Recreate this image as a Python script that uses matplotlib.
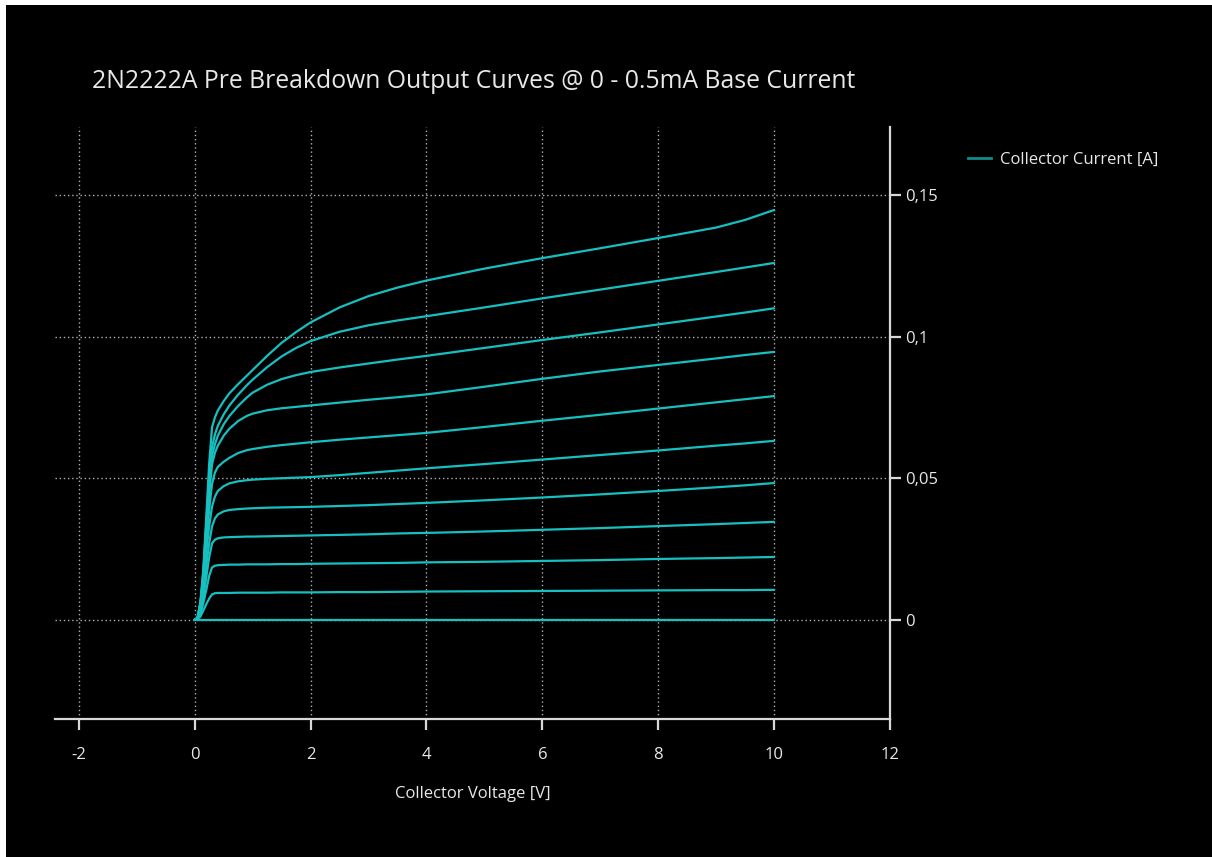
import matplotlib
matplotlib.use("Agg")
import matplotlib.pyplot as plt
from matplotlib.lines import Line2D
from matplotlib.patches import Rectangle
from matplotlib.ticker import FuncFormatter

# Tensión de colector [V] (común a todas las curvas)
voltaje = [0, 0.05, 0.1, 0.15, 0.2, 0.25, 0.3, 0.35, 0.4, 0.5, 0.6, 0.75, 0.9, 1.0,
           1.25, 1.5, 1.75, 2, 2.5, 3, 3.5, 4, 5, 6, 7, 8, 9, 9.5, 10]

# Corriente de colector [A] para cada corriente de base (0 - 0.5 mA, pasos de 0.05 mA)
ib_000 = [0] * 29
ib_005 = [0, 0.0002, 0.0012, 0.0033, 0.0055, 0.0075, 0.0090, 0.0094, 0.0095, 0.0095, 0.0095, 0.0096, 0.0096, 0.0096,
          0.0096, 0.0097, 0.0097, 0.0097, 0.0098, 0.0098, 0.0099, 0.0100, 0.0101, 0.0102, 0.0103, 0.0104, 0.0105, 0.0105, 0.0106]
ib_010 = [0, 0.0004, 0.002, 0.006, 0.0105, 0.0155, 0.0185, 0.0191, 0.0193, 0.0194, 0.0195, 0.0195, 0.0196, 0.0196,
          0.0196, 0.0197, 0.0197, 0.0198, 0.0199, 0.0200, 0.0201, 0.0203, 0.0205, 0.0208, 0.0211, 0.0215, 0.0218, 0.0220, 0.0222]
ib_015 = [0, 0.0005, 0.003, 0.008, 0.015, 0.022, 0.027, 0.0283, 0.0288, 0.0291, 0.0292, 0.0293, 0.0294, 0.0294,
          0.0295, 0.0296, 0.0297, 0.0298, 0.0300, 0.0302, 0.0305, 0.0307, 0.0312, 0.0318, 0.0324, 0.0331, 0.0338, 0.0342, 0.0346]
ib_020 = [0, 0.0006, 0.004, 0.010, 0.019, 0.027, 0.033, 0.0358, 0.0372, 0.0383, 0.0388, 0.0391, 0.0393, 0.0394,
          0.0396, 0.0397, 0.0398, 0.0399, 0.0402, 0.0405, 0.0409, 0.0413, 0.0422, 0.0432, 0.0443, 0.0455, 0.0468, 0.0475, 0.0483]
ib_025 = [0, 0.0006, 0.005, 0.013, 0.024, 0.033, 0.040, 0.0435, 0.0455, 0.0472, 0.0482, 0.0489, 0.0493, 0.0495,
          0.0498, 0.0500, 0.0502, 0.0504, 0.0511, 0.0519, 0.0527, 0.0535, 0.0550, 0.0566, 0.0582, 0.0598, 0.0615, 0.0623, 0.0632]
ib_030 = [0, 0.0007, 0.005, 0.014, 0.027, 0.039, 0.048, 0.052, 0.0540, 0.0558, 0.0572, 0.0589, 0.0599, 0.0603,
          0.0611, 0.0617, 0.0622, 0.0627, 0.0636, 0.0644, 0.0652, 0.0660, 0.0681, 0.0703, 0.0724, 0.0746, 0.0768, 0.0779, 0.0790]
ib_035 = [0, 0.0007, 0.006, 0.015, 0.030, 0.044, 0.055, 0.059, 0.0615, 0.0650, 0.0675, 0.0702, 0.0720, 0.0728,
          0.0740, 0.0747, 0.0752, 0.0757, 0.0767, 0.0777, 0.0786, 0.0796, 0.0823, 0.0851, 0.0877, 0.0900, 0.0923, 0.0935, 0.0946]
ib_040 = [0, 0.0007, 0.006, 0.016, 0.032, 0.047, 0.058, 0.062, 0.0650, 0.0690, 0.0720, 0.0755, 0.0785, 0.0802,
          0.0830, 0.0850, 0.0864, 0.0875, 0.0891, 0.0905, 0.0919, 0.0932, 0.0960, 0.0988, 0.1015, 0.1043, 0.1071, 0.1085, 0.1100]
ib_045 = [0, 0.0007, 0.006, 0.017, 0.034, 0.050, 0.061, 0.0655, 0.0685, 0.0725, 0.0757, 0.0795, 0.0828, 0.0848,
          0.0892, 0.0930, 0.0960, 0.0984, 0.1017, 0.1040, 0.1057, 0.1072, 0.1103, 0.1135, 0.1166, 0.1197, 0.1228, 0.1244, 0.1260]
ib_050 = [0, 0.0008, 0.006, 0.018, 0.036, 0.055, 0.068, 0.0715, 0.0739, 0.0772, 0.0800, 0.0832, 0.0862, 0.0882,
          0.0932, 0.0978, 0.1016, 0.1050, 0.1103, 0.1143, 0.1173, 0.1198, 0.1240, 0.1277, 0.1312, 0.1348, 0.1385, 0.1412, 0.1447]

curvas = [ib_000, ib_005, ib_010, ib_015, ib_020, ib_025, ib_030, ib_035, ib_040, ib_045, ib_050]

xticks = [-2, 0, 2, 4, 6, 8, 10, 12]
yticks = [0, 0.05, 0.1, 0.15]

plt.rcParams["font.family"] = ["Open Sans", "DejaVu Sans"]
plt.rcParams["axes.unicode_minus"] = False

fig = plt.figure(figsize=(12.12, 8.57), dpi=100)
fig.patch.set_facecolor("white")

# Fondo negro con el borde blanco arriba y a la izquierda
fig.patches.append(Rectangle((6 / 1212, 0), 1, 1 - 5 / 857, transform=fig.transFigure,
                             facecolor="black", edgecolor="none", zorder=-10))

ax = fig.add_axes([55 / 1212, 1 - 719 / 857, 835 / 1212, 592 / 857])
ax.set_facecolor("black")

color_curva = "#17c0c0"
for corriente in curvas:
    ax.plot(voltaje, corriente, color=color_curva, linewidth=1.6,
            solid_joinstyle="round", solid_capstyle="round")

ax.set_xlim(-2.41, 12)
ax.set_ylim(-0.035, 0.174)
ax.set_xticks(xticks)
ax.set_yticks(yticks)

def coma(v, pos):
    if v == 0:
        return "0"
    return ("%g" % v).replace(".", ",")

ax.yaxis.set_major_formatter(FuncFormatter(coma))
ax.yaxis.tick_right()

# Ejes
for lado in ["top", "left"]:
    ax.spines[lado].set_visible(False)
for lado in ["right", "bottom"]:
    ax.spines[lado].set_color("#d8d8d8")
    ax.spines[lado].set_linewidth(1.6)

ax.tick_params(axis="both", colors="#d8d8d8", length=8, width=1.6, labelsize=12,
               labelcolor="#e8e8e8")
ax.tick_params(axis="x", pad=12)
ax.tick_params(axis="y", pad=3)

ax.grid(True, color="#b0b0b0", linestyle=(0, (1, 2)), linewidth=1.0)
ax.set_axisbelow(True)

ax.set_xlabel("Collector Voltage [V]", color="#e8e8e8", fontsize=12, labelpad=17)

fig.text(92 / 1212, 1 - 81 / 857, "2N2222A Pre Breakdown Output Curves @ 0 - 0.5mA Base Current",
         color="#e8e8e8", fontsize=17.8, va="center", ha="left")

# Leyenda
linea = Line2D([0], [0], color="#138c8c", linewidth=2)
fig.legend([linea], ["Collector Current [A]"], loc="upper left",
           bbox_to_anchor=(953 / 1212, 1 - 137 / 857), frameon=False,
           fontsize=12, labelcolor="#e8e8e8", handlelength=1.4, handletextpad=0.5)

fig.savefig("out.png", dpi=100, facecolor=fig.get_facecolor())
